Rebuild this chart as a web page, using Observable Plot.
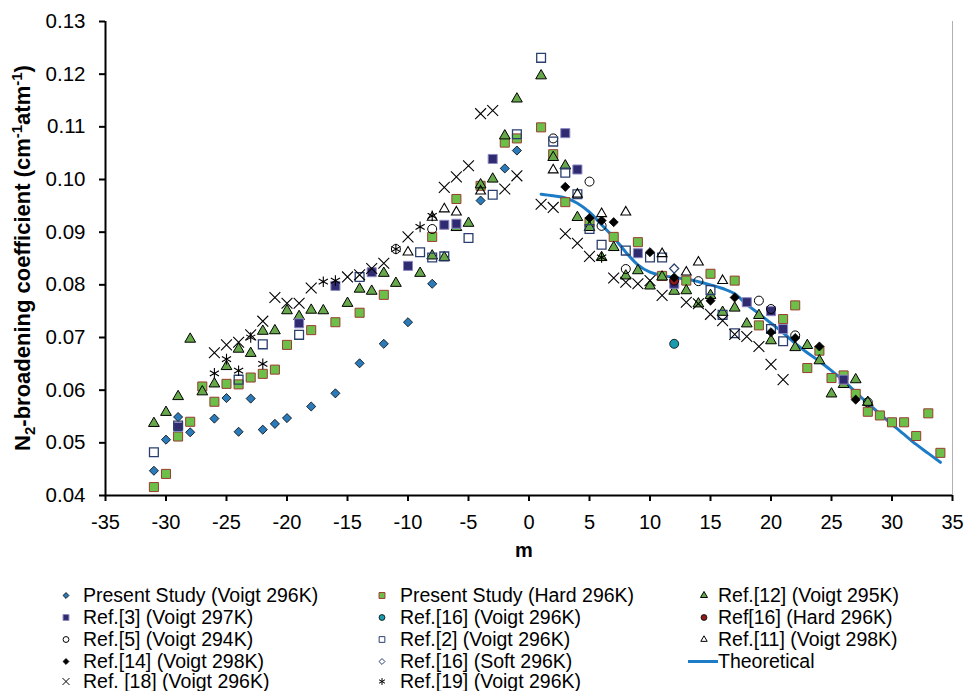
<!DOCTYPE html>
<html>
<head>
<meta charset="utf-8">
<script src="https://cdn.jsdelivr.net/npm/d3@7"></script>
<script src="https://cdn.jsdelivr.net/npm/@observablehq/plot@0.6"></script>
<style>
  html, body { margin: 0; background: #fff; }
  body { width: 965px; height: 691px; overflow: hidden; }
  #wrap { width: 965px; font-family: "Liberation Sans", Arial, sans-serif; }
  #wrap > svg { display: block; }
  #legend { position: relative; width: 965px; height: 116px; }
  .item { position: absolute; height: 20px; line-height: 20px; font-size: 19.5px; color: #000; white-space: nowrap; }
  .item svg { position: absolute; top: 0; }
  .item span { position: absolute; top: 0; }
</style>
</head>
<body>
<div id="wrap"></div>
<script>
// ---------- data: [m, coefficient] ----------
const presentVoigt = [[-31,0.0447],[-30,0.0506],[-29,0.0549],[-28,0.0520],[-26,0.0546],[-25,0.0585],[-24,0.0521],[-23,0.0584],[-22,0.0525],[-21,0.0536],[-20,0.0547],[-18,0.0569],[-16,0.0594],[-14,0.0651],[-12,0.0688],[-10,0.0729],[-8,0.0802],[-4,0.0960],[-2,0.1021],[-1,0.1055]];
const presentHard = [[-31,0.0416],[-30,0.0441],[-29,0.0512],[-28,0.0540],[-27,0.0607],[-26,0.0578],[-25,0.0612],[-24,0.0611],[-23,0.0624],[-22,0.0631],[-21,0.0639],[-20,0.0686],[-18,0.0714],[-16,0.0729],[-14,0.0747],[-12,0.0781],[-8,0.0891],[-6,0.0963],[-4,0.0988],[-2,0.1070],[-1,0.1078],
  [1,0.1099],[2,0.1048],[3,0.0957],[5,0.0919],[7,0.0891],[9,0.0881],[11,0.0817],[13,0.0808],[15,0.0821],[17,0.0808],[19,0.0723],[21,0.0735],[22,0.0761],[23,0.0642],[24,0.0675],[25,0.0623],[26,0.0628],[27,0.0593],[28,0.0559],[29,0.0552],[30,0.0539],[31,0.0539],[32,0.0513],[33,0.0556],[34,0.0481]];
const ref12 = [[-31,0.0537],[-30,0.0558],[-29,0.0588],[-28,0.0697],[-27,0.0597],[-26,0.0612],[-25,0.0645],[-24,0.0678],[-23,0.0670],[-22,0.0712],[-21,0.0713],[-20,0.0751],[-19,0.0740],[-18,0.0752],[-17,0.0751],[-15,0.0765],[-14,0.0792],[-13,0.0788],[-12,0.0822],[-11,0.0803],[-9,0.0822],[-8,0.0855],[-7,0.0852],[-6,0.0909],[-5,0.0917],[-4,0.0990],[-3,0.1001],[-2,0.1083],[-1,0.1153],
  [1,0.1197],[2,0.1042],[3,0.1026],[4,0.0928],[5,0.0909],[6,0.0852],[7,0.0871],[8,0.0817],[9,0.0827],[10,0.0798],[11,0.0815],[12,0.0788],[13,0.0789],[14,0.0764],[15,0.0780],[16,0.0748],[17,0.0756],[18,0.0726],[19,0.0742],[20,0.0694],[22,0.0681],[23,0.0685],[24,0.0656],[25,0.0593],[26,0.0611],[27,0.0620],[28,0.0577]];
const ref3 = [[-29,0.0530],[-19,0.0727],[-16,0.0798],[-13,0.0824],[-10,0.0836],[-7,0.0914],[-6,0.0916],[-3,0.1039],[3,0.1088],[4,0.1019],[9,0.0860],[12,0.0802],[18,0.0767],[20,0.0750],[21,0.0716],[26,0.0620]];
const ref16Voigt = [[12,0.0688]];
const ref16Hard = [[12,0.0808]];
const ref5 = [[-11,0.0868],[-8,0.0906],[2,0.1078],[5,0.0996],[6,0.0912],[8,0.0830],[14,0.0807],[19,0.0770],[20,0.0754],[22,0.0704],[28,0.0577]];
const ref2 = [[-31,0.0482],[-29,0.0533],[-24,0.0620],[-22,0.0687],[-19,0.0705],[-14,0.0815],[-9,0.0862],[-8,0.0852],[-7,0.0854],[-5,0.0889],[-3,0.0971],[-1,0.1086],
  [1,0.1231],[2,0.1072],[3,0.1013],[4,0.0972],[5,0.0906],[6,0.0876],[8,0.0865],[10,0.0852],[11,0.0852],[15,0.0790],[16,0.0743],[17,0.0708],[20,0.0716],[21,0.0693]];
const ref11 = [[-10,0.0862],[-8,0.0928],[-7,0.0944],[-6,0.0938],[-4,0.0978],[2,0.1018],[4,0.0972],[6,0.0935],[8,0.0938],[11,0.0859],[13,0.0824],[14,0.0843],[16,0.0808]];
const ref14 = [[3,0.0986],[5,0.0927],[6,0.0922],[7,0.0919],[10,0.0862],[12,0.0814],[15,0.0770],[17,0.0776],[20,0.0710],[22,0.0699],[24,0.0683],[27,0.0582]];
const ref16Soft = [[12,0.0831]];
const ref18 = [[-26,0.0671],[-25,0.0686],[-24,0.0691],[-23,0.0705],[-22,0.0731],[-21,0.0776],[-20,0.0765],[-19,0.0765],[-18,0.0794],[-15,0.0815],[-14,0.0819],[-13,0.0831],[-12,0.0841],[-10,0.0891],[-7,0.0985],[-6,0.1005],[-5,0.1026],[-4,0.1125],[-3,0.1131],[-2,0.0982],[-1,0.1007],
  [1,0.0953],[2,0.0947],[3,0.0897],[4,0.0879],[5,0.0854],[7,0.0813],[8,0.0805],[9,0.0802],[10,0.0808],[11,0.0780],[13,0.0767],[14,0.0764],[15,0.0744],[16,0.0732],[17,0.0706],[18,0.0702],[19,0.0683],[20,0.0649],[21,0.0620]];
const ref19 = [[-26,0.0632],[-25,0.0659],[-24,0.0637],[-23,0.0700],[-22,0.0650],[-17,0.0806],[-16,0.0808],[-11,0.0868],[-9,0.0910],[-8,0.0931],[6,0.0852]];
const theoretical = [[1,0.0972],[2,0.0969],[3,0.0965],[4,0.0955],[5,0.0938],[6,0.0914],[7,0.0890],[8,0.0862],[9,0.0838],[10,0.0824],[11,0.0818],[12,0.0814],[13,0.0811],[14,0.0806],[15,0.0800],[16,0.0793],[17,0.0783],[18,0.0763],[19,0.0745],[20,0.0727],[21,0.0709],[22,0.0689],[23,0.0671],[24,0.0655],[25,0.0637],[26,0.0618],[27,0.0596],[28,0.0575],[29,0.0555],[30,0.0535],[31,0.0516],[32,0.0497],[33,0.0480],[34,0.0463]];

const xTicks = [-35,-30,-25,-20,-15,-10,-5,0,5,10,15,20,25,30,35];
const yTicks = [0.04,0.05,0.06,0.07,0.08,0.09,0.10,0.11,0.12,0.13];

// ---------- series styles ----------
const series = [
  {name: "Present Study (Voigt 296K)", data: presentVoigt, symbol: "diamond2", fill: "#2b7bba", stroke: "#000", r: 4.1, sw: 0.8},
  {name: "Present Study (Hard 296K)", data: presentHard, symbol: "square", fill: "#6cc04a", stroke: "#9a3b30", r: 5.1, sw: 1},
  {name: "Ref.[12] (Voigt 295K)", data: ref12, symbol: "triangle", fill: "#67a84a", stroke: "#000", r: 4.0, sw: 1},
  {name: "Ref.[3] (Voigt 297K)", data: ref3, symbol: "square", fill: "#2f2b70", stroke: "#8d88c0", r: 5.1, sw: 1},
  {name: "Ref.[16] (Voigt 296K)", data: ref16Voigt, symbol: "circle", fill: "#1a9bb0", stroke: "#000", r: 4.5, sw: 0.8},
  {name: "Ref[16] (Hard 296K)", data: ref16Hard, symbol: "circle", fill: "#8b1c1c", stroke: "#000", r: 4.5, sw: 0.8},
  {name: "Ref.[5] (Voigt 294K)", data: ref5, symbol: "circle", fill: "none", stroke: "#000", r: 4.5, sw: 1},
  {name: "Ref.[2] (Voigt 296K)", data: ref2, symbol: "square2", fill: "none", stroke: "#2a3f6e", r: 5.6, sw: 1.3},
  {name: "Ref.[11] (Voigt 298K)", data: ref11, symbol: "triangle2", fill: "none", stroke: "#000", r: 4.7, sw: 1.1},
  {name: "Ref.[14] (Voigt 298K)", data: ref14, symbol: "diamond2", fill: "#000", stroke: "#000", r: 4.1, sw: 0.8},
  {name: "Ref.[16] (Soft 296K)", data: ref16Soft, symbol: "diamond2", fill: "none", stroke: "#2a3f6e", r: 4.1, sw: 1.2},
  {name: "Ref. [18] (Voigt 296K)", data: ref18, symbol: "times", fill: "none", stroke: "#000", r: 5.0, sw: 1.1},
  {name: "Ref.[19] (Voigt 296K)", data: ref19, symbol: "asterisk", fill: "none", stroke: "#000", r: 5.0, sw: 1.1}
];

const dots = series.map(s => Plot.dot(s.data, {
  x: d => d[0], y: d => d[1], symbol: s.symbol, r: s.r,
  fill: s.fill, stroke: s.stroke, strokeWidth: s.sw
}));

const chart = Plot.plot({
  width: 965, height: 575,
  marginLeft: 105, marginRight: 13, marginTop: 21, marginBottom: 80,
  style: {fontFamily: "Liberation Sans, Arial, sans-serif", fontSize: "20px", color: "#000", background: "#fff"},
  x: {domain: [-35, 35]},
  y: {domain: [0.04, 0.13]},
  marks: [
    Plot.ruleX([35], {stroke: "#b0b0b0", strokeWidth: 1}),
    Plot.axisX({ticks: xTicks, tickSize: 6, tickPadding: 13, strokeWidth: 2, label: null, fontSize: 20, tickFormat: d => String(d)}),
    Plot.axisY({ticks: yTicks, tickSize: 6, tickPadding: 14, strokeWidth: 2, label: null, fontSize: 20.5, tickFormat: d => d.toFixed(2)}),
    Plot.ruleX([-35], {stroke: "#000", strokeWidth: 2}),
    Plot.ruleY([0.04], {stroke: "#000", strokeWidth: 2}),
    Plot.line(theoretical, {x: d => d[0], y: d => d[1], stroke: "#1e7cc6", strokeWidth: 3, curve: "monotone-x"}),
    ...dots
  ]
});

const svg = d3.select(chart);
svg.append("text")
  .attr("x", 524).attr("y", 557)
  .attr("text-anchor", "middle")
  .attr("font-weight", "bold").attr("font-size", 20)
  .text("m");
const yl = svg.append("text")
  .attr("transform", "translate(30,258) rotate(-90)")
  .attr("text-anchor", "middle")
  .attr("font-weight", "bold").attr("font-size", 22);
yl.append("tspan").text("N");
yl.append("tspan").attr("font-size", 15).attr("dy", 5).text("2");
yl.append("tspan").attr("dy", -5).text("-broadening coefficient (cm");
yl.append("tspan").attr("font-size", 15).attr("dy", -8).text("-1");
yl.append("tspan").attr("dy", 8).text("atm");
yl.append("tspan").attr("font-size", 15).attr("dy", -8).text("-1");
yl.append("tspan").attr("dy", 8).text(")");

document.getElementById("wrap").appendChild(chart);

// ---------- legend ----------
const legend = document.createElement("div");
legend.id = "legend";
document.getElementById("wrap").appendChild(legend);
const cols = [{mx: 66, tx: 83}, {mx: 382, tx: 400}, {mx: 704, tx: 718}];
const rowTop = [10, 32, 54, 76, 96];
const order = [0, 1, 2, 3, 4, 5, 6, 7, 8, 9, 10, "theory", 11, 12];
const symMap = {diamond2: d3.symbolDiamond2, square: d3.symbolSquare, triangle: d3.symbolTriangle, circle: d3.symbolCircle, square2: d3.symbolSquare2, triangle2: d3.symbolTriangle2, times: d3.symbolTimes, asterisk: d3.symbolAsterisk};
order.forEach((k, i) => {
  const row = Math.floor(i / 3), col = i % 3;
  const item = document.createElement("div");
  item.className = "item";
  item.style.left = "0px";
  item.style.top = rowTop[row] + "px";
  const c = cols[col];
  if (k === "theory") {
    item.innerHTML = `<svg width="40" height="20" style="left:${c.mx - 16}px"><line x1="0" x2="30" y1="10.5" y2="10.5" stroke="#1e7cc6" stroke-width="3"/></svg><span style="left:${c.tx}px">Theoretical</span>`;
  } else {
    const s = series[k];
    const rr = s.r * 0.65;
    const path = d3.symbol(symMap[s.symbol], Math.PI * rr * rr)();
    item.innerHTML = `<svg width="20" height="20" style="left:${c.mx - 10}px"><path transform="translate(10,10.5)" d="${path}" fill="${s.fill}" stroke="${s.stroke}" stroke-width="${Math.min(s.sw, 1)}"/></svg><span style="left:${c.tx}px">${s.name}</span>`;
  }
  legend.appendChild(item);
});
</script>
</body>
</html>
